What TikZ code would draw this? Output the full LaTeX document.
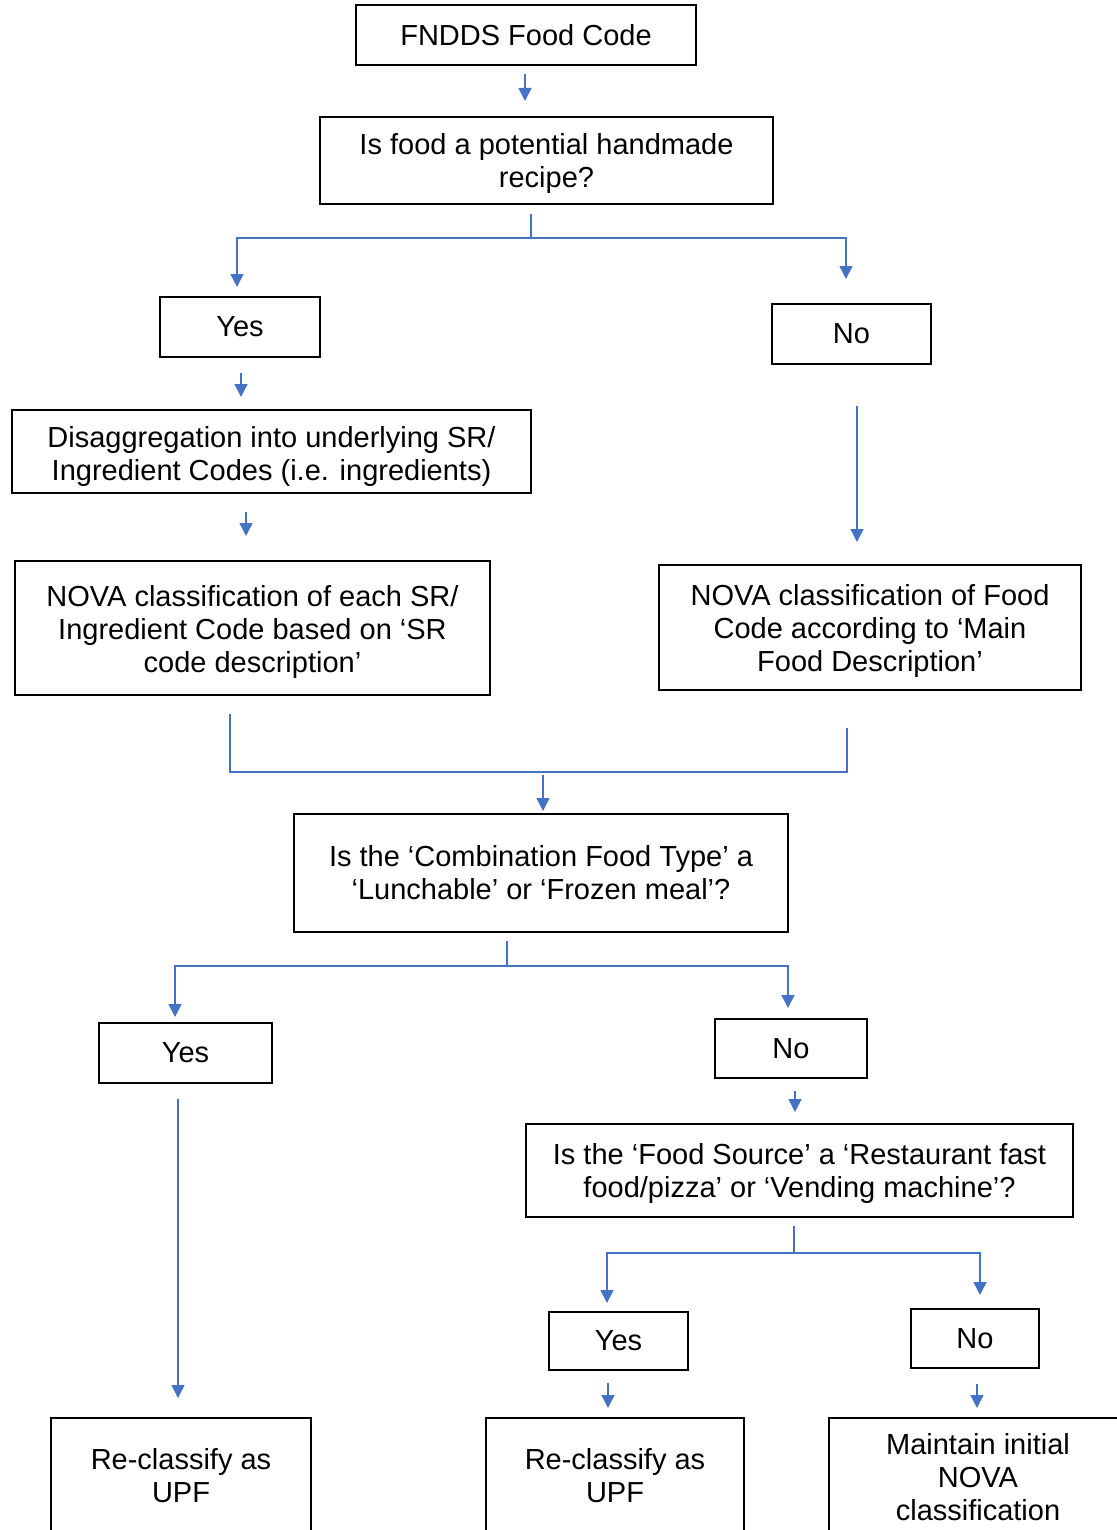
\documentclass[tikz,border=0pt]{standalone}
\usepackage{fontspec}
\setmainfont{Liberation Sans}
\usetikzlibrary{arrows.meta}
\definecolor{connblue}{HTML}{4472C4}
\begin{document}
\begin{tikzpicture}[x=0.5pt,y=-0.5pt,
  box/.style={draw=black,line width=1pt,align=center,inner sep=0pt,font=\fontsize{14.5}{16.5}\selectfont},
  frame/.style={draw=black,line width=1pt,inner sep=0pt},
  txt/.style={align=center,inner sep=0pt,font=\fontsize{14.5}{16.5}\selectfont},
  conn/.style={draw=connblue,line width=0.75pt},
  arr/.style={conn,-{Triangle[width=6.5pt,length=6.5pt]}}]
\useasboundingbox (0,0) rectangle (1117,1530);
\clip (0,0) rectangle (1117,1530);
% boxes
\node[box,minimum width=170pt,minimum height=30pt] (fndds) at (526,35) {FNDDS Food Code};
\node[frame,minimum width=226.5pt,minimum height=43.5pt] (hand) at (546.5,160.5) {};
\node[txt] (handt) at ([yshift=-1.5pt]hand.center) {Is food a potential handmade\\recipe?};
\node[box,minimum width=80pt,minimum height=30pt] (yes1) at (240,327) {Yes};
\node[box,minimum width=79.5pt,minimum height=30pt] (no1) at (851.5,334) {No};
\node[frame,minimum width=259.5pt,minimum height=41.5pt] (disagg) at (271.5,451.5) {};
\node[txt] (disaggt) at ([yshift=-2.3pt]disagg.center) {Disaggregation into underlying SR/\\Ingredient Codes (i.e. ingredients)};
\node[frame,minimum width=237.5pt,minimum height=67pt] (novasr) at (252.5,628) {};
\node[txt] (novasrt) at ([yshift=-2pt]novasr.center) {NOVA classification of each SR/\\Ingredient Code based on ‘SR\\code description’};
\node[frame,minimum width=211pt,minimum height=62.5pt] (novafood) at (870,627.5) {};
\node[txt] (novafoodt) at ([yshift=-1.8pt]novafood.center) {NOVA classification of Food\\Code according to ‘Main\\Food Description’};
\node[box,minimum width=247pt,minimum height=59pt] (comb) at (541,873) {Is the ‘Combination Food Type’ a\\‘Lunchable’ or ‘Frozen meal’?};
\node[box,minimum width=86.5pt,minimum height=30pt] (yes2) at (185.5,1053) {Yes};
\node[box,minimum width=76pt,minimum height=29.5pt] (no2) at (791,1048.5) {No};
\node[frame,minimum width=273.5pt,minimum height=46.5pt] (source) at (799.5,1170.5) {};
\node[txt] (sourcet) at ([yshift=-1.5pt]source.center) {Is the ‘Food Source’ a ‘Restaurant fast\\food/pizza’ or ‘Vending machine’?};
\node[box,minimum width=69.5pt,minimum height=29pt] (yes3) at (618.5,1341) {Yes};
\node[box,minimum width=64pt,minimum height=29.5pt] (no3) at (975,1338.5) {No};
% bottom boxes (open at the bottom edge)
\node[frame,minimum width=130pt,minimum height=100pt,anchor=north] (rc1) at (181,1417) {};
\node[txt] (rc1t) at (181,1476) {Re-classify as\\UPF};
\node[frame,minimum width=129pt,minimum height=100pt,anchor=north] (rc2) at (615,1417) {};
\node[txt] (rc2t) at (615,1476) {Re-classify as\\UPF};
\node[frame,minimum width=170pt,minimum height=100pt,anchor=north west] (maint) at (828,1417) {};
\node[txt] (maintt) at (978,1477) {Maintain initial\\NOVA\\classification};
% connectors
\draw[arr,shorten <=4pt,shorten >=7.5pt] ([xshift=-0.5pt]fndds.south) -- ([xshift=-0.5pt]fndds.south |- hand.north);
\coordinate (b1) at (531,238);
\draw[conn,shorten <=4.5pt] (b1 |- hand.south) -- (b1);
\draw[arr,shorten >=4.5pt] (b1) -| ([xshift=-1.5pt]yes1.north);
\draw[arr,shorten >=12pt] (b1) -| ([xshift=-2.75pt]no1.north);
\draw[arr,shorten <=7.5pt,shorten >=6pt] ([xshift=0.5pt]yes1.south) -- ([xshift=0.5pt]yes1.south |- disagg.north);
\draw[arr,shorten <=9pt,shorten >=12pt] ([xshift=-3.25pt]novasr.north |- disagg.south) -- ([xshift=-3.25pt]novasr.north);
\draw[arr,shorten <=20.5pt,shorten >=11pt] ([xshift=2.75pt]no1.south) -- ([xshift=2.75pt]no1.south |- novafood.north);
\coordinate (m) at (543,772);
\draw[conn,shorten <=9pt] ([xshift=-11.25pt]novasr.south) |- (m);
\draw[conn,shorten <=18.5pt] ([xshift=-11.5pt]novafood.south) |- (m);
\draw[arr,shorten <=1.5pt,shorten >=1pt] (m) -- (m |- comb.north);
\coordinate (b2) at (507,966);
\draw[conn,shorten <=4pt] (b2 |- comb.south) -- (b2);
\draw[arr,shorten >=2.5pt] (b2) -| ([xshift=-5.25pt]yes2.north);
\draw[arr,shorten >=5pt] (b2) -| ([xshift=-1.5pt]no2.north);
\draw[arr,shorten <=6pt,shorten >=5.5pt] ([xshift=2pt]no2.south) -- ([xshift=2pt]no2.south |- source.north);
\coordinate (b3) at (794,1253);
\draw[conn,shorten <=4pt] (b3 |- source.south) -- (b3);
\draw[arr,shorten >=4pt] (b3) -| ([xshift=-5.75pt]yes3.north);
\draw[arr,shorten >=6.5pt] (b3) -| ([xshift=2.5pt]no3.north);
\draw[arr,shorten <=7.5pt,shorten >=9.5pt] ([xshift=-3.75pt]yes2.south) -- ([xshift=-3.75pt]yes2.south |- rc1.north);
\draw[arr,shorten <=6pt,shorten >=4.5pt] ([xshift=-5.25pt]yes3.south) -- ([xshift=-5.25pt]yes3.south |- rc2.north);
\draw[arr,shorten <=7.5pt,shorten >=4.5pt] ([xshift=1pt]no3.south) -- ([xshift=1pt]no3.south |- maint.north);
\end{tikzpicture}
\end{document}
